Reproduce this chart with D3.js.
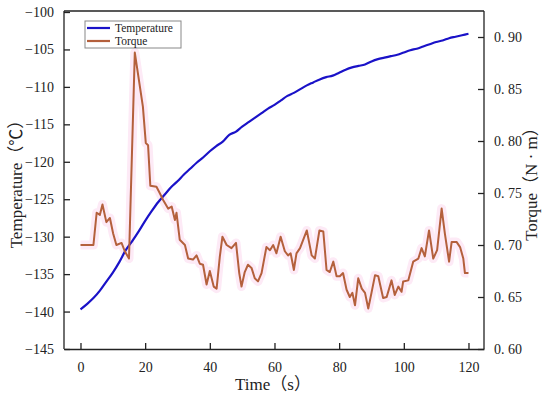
<!DOCTYPE html>
<html>
<head>
<meta charset="utf-8">
<script src="https://cdn.jsdelivr.net/npm/d3@7"></script>
<style>
  body { margin: 0; background: #fff; }
  svg text { font-family: "Liberation Serif", "Noto Sans CJK SC", serif; fill: #222; }
</style>
</head>
<body>
<script>
// temperature sampled every 2 s
const tempTime = d3.range(0, 121, 2);
const tempValue = [-139.7, -139.0, -138.2, -137.2, -136.0, -134.8, -133.4, -131.8, -130.6, -129.3,
  -127.9, -126.6, -125.4, -124.4, -123.4, -122.6, -121.7, -120.9, -120.1, -119.4,
  -118.6, -117.9, -117.3, -116.4, -116.0, -115.3, -114.7, -114.1, -113.5, -112.9,
  -112.4, -111.8, -111.2, -110.8, -110.3, -109.8, -109.4, -109.0, -108.7, -108.5,
  -108.1, -107.7, -107.4, -107.2, -107.0, -106.6, -106.3, -106.1, -105.9, -105.7,
  -105.4, -105.1, -104.9, -104.6, -104.3, -104.0, -103.8, -103.5, -103.3, -103.1, -102.9];

const torqueTime = [0, 4, 5, 6, 6.8, 8, 9.1, 10.1, 11.1, 12.7, 13.7, 15, 16.8, 19.3, 20.2, 20.9, 21.6,
  23.5, 24.5, 25.6, 27.1, 28.2, 29.2, 29.7, 30.7, 32.3, 33.3, 34.8, 35.9, 36.9, 37.9, 39, 40, 41.2, 42.1,
  43.1, 43.9, 45.2, 46.7, 48.1, 49.1, 49.8, 50.8, 51.8, 52.9, 53.9, 54.9, 56, 57.5, 58.6, 59.6, 60.6,
  61.9, 63.2, 64.2, 65, 66, 66.8, 67.9, 70, 71.5, 72.5, 73.9, 75.1, 76.1, 77.1, 78.2, 79.2, 80.2, 81.2,
  82.3, 83.3, 84.1, 84.9, 85.9, 87, 88, 89, 90, 91.1, 92.1, 93.6, 94.7, 96.2, 97.2, 98.3, 99.3, 99.8,
  101.4, 102.9, 104.5, 105.5, 106.5, 107.8, 109.1, 110.3, 111.7, 112.7, 114, 114.8, 116.3, 117.4,
  118.4, 118.9, 120];
const torqueValue = [0.700, 0.700, 0.731, 0.729, 0.739, 0.722, 0.726, 0.711, 0.700, 0.702, 0.694, 0.687,
  0.885, 0.833, 0.798, 0.796, 0.757, 0.756, 0.750, 0.743, 0.735, 0.737, 0.724, 0.731, 0.705, 0.700,
  0.687, 0.686, 0.690, 0.682, 0.681, 0.662, 0.675, 0.660, 0.658, 0.689, 0.708, 0.700, 0.697, 0.702,
  0.673, 0.660, 0.674, 0.681, 0.678, 0.668, 0.665, 0.673, 0.698, 0.695, 0.700, 0.692, 0.708, 0.694,
  0.690, 0.692, 0.676, 0.692, 0.697, 0.714, 0.690, 0.687, 0.714, 0.713, 0.676, 0.674, 0.684, 0.670,
  0.670, 0.673, 0.657, 0.650, 0.654, 0.642, 0.668, 0.658, 0.654, 0.639, 0.654, 0.671, 0.670, 0.649,
  0.650, 0.666, 0.652, 0.660, 0.655, 0.665, 0.666, 0.684, 0.687, 0.697, 0.689, 0.714, 0.687, 0.695,
  0.735, 0.711, 0.684, 0.703, 0.703, 0.698, 0.687, 0.673, 0.673];

const timeTicks = [0, 20, 40, 60, 80, 100, 120];
const tempTicks = [-145, -140, -135, -130, -125, -120, -115, -110, -105, -100];
const torqueTicks = [0.60, 0.65, 0.70, 0.75, 0.80, 0.85, 0.90];

const W = 550, H = 399;
const L = 64, R = 484, T = 11, B = 349;

const svg = d3.select("body").append("svg").attr("width", W).attr("height", H);

const x = d3.scaleLinear().domain([-5.1, 124.8]).range([L, R]);
const yT = d3.scaleLinear().domain([-145, -100]).range([B, 12]);
const yQ = d3.scaleLinear().domain([0.6, 0.925]).range([B, T]);

const fmtMinus = d => String(d).replace("-", "\u2212");

// axes, ticks inside
const xAxis = svg.append("g").attr("transform", `translate(0,${B})`)
  .call(d3.axisBottom(x).tickValues(timeTicks).tickSizeInner(-6).tickSizeOuter(0).tickPadding(13));
const lAxis = svg.append("g").attr("transform", `translate(${L},0)`)
  .call(d3.axisLeft(yT).tickValues(tempTicks).tickFormat(fmtMinus).tickSizeInner(-6).tickSizeOuter(0).tickPadding(10));
const rAxis = svg.append("g").attr("transform", `translate(${R},0)`)
  .call(d3.axisRight(yQ).tickValues(torqueTicks).tickFormat(d3.format(".2f")).tickSizeInner(-6).tickSizeOuter(0).tickPadding(10));

[xAxis, lAxis, rAxis].forEach(g => {
  g.selectAll("path, line").attr("stroke", "#222").attr("stroke-width", 1.3);
  g.selectAll("text").attr("font-size", 14).attr("fill", "#333")
    .style("font-family", '"Liberation Serif", serif');
});
rAxis.selectAll("text").text(d => d3.format(".2f")(d).replace(".", ". "));

svg.append("line").attr("x1", L).attr("x2", R).attr("y1", T).attr("y2", T)
  .attr("stroke", "#222").attr("stroke-width", 1.3);
lAxis.select(".domain").attr("d", `M0,${T}V${B}`);
rAxis.select(".domain").attr("d", `M0,${T}V${B}`);

// lines
const tempLine = d3.line().x((d, i) => x(tempTime[i])).y(d => yT(d)).curve(d3.curveMonotoneX);
const torqueLine = d3.line().x((d, i) => x(torqueTime[i])).y(d => yQ(d));

svg.append("path").datum(torqueValue).attr("d", torqueLine)
  .attr("fill", "none").attr("stroke", "#fdeaf6").attr("stroke-width", 9).attr("stroke-linejoin", "round");
svg.append("path").datum(tempValue).attr("d", tempLine)
  .attr("fill", "none").attr("stroke", "#1a12c8").attr("stroke-width", 2.2);
svg.append("path").datum(torqueValue).attr("d", torqueLine)
  .attr("fill", "none").attr("stroke", "#b4603c").attr("stroke-width", 2).attr("stroke-linejoin", "round");

// legend
const lg = svg.append("g").attr("transform", "translate(85,21)");
lg.append("rect").attr("width", 96).attr("height", 27).attr("fill", "#fff")
  .attr("stroke", "#888").attr("stroke-width", 1);
const legendItems = [["Temperature", "#1a12c8"], ["Torque", "#b4603c"]];
legendItems.forEach(([name, c], i) => {
  lg.append("line").attr("x1", 2).attr("x2", 25).attr("y1", 7 + i * 13).attr("y2", 7 + i * 13)
    .attr("stroke", c).attr("stroke-width", 2.2);
  lg.append("text").attr("x", 30).attr("y", 11 + i * 13).attr("font-size", 11.5).attr("fill", "#333").text(name);
});

// titles
svg.append("text").attr("x", 273).attr("y", 390).attr("text-anchor", "middle")
  .attr("font-size", 17).attr("fill", "#333").text("Time\uff08s\uff09");
svg.append("text").attr("transform", `translate(22,${(T + B) / 2}) rotate(-90)`).attr("text-anchor", "middle")
  .attr("font-size", 17).attr("fill", "#333").text("Temperature\uff08\u2103\uff09");
svg.append("text").attr("transform", `translate(537,${(T + B) / 2}) rotate(-90)`).attr("text-anchor", "middle")
  .attr("font-size", 17).attr("fill", "#555").text("Torque\uff08N \u00b7 m\uff09");
</script>
</body>
</html>
